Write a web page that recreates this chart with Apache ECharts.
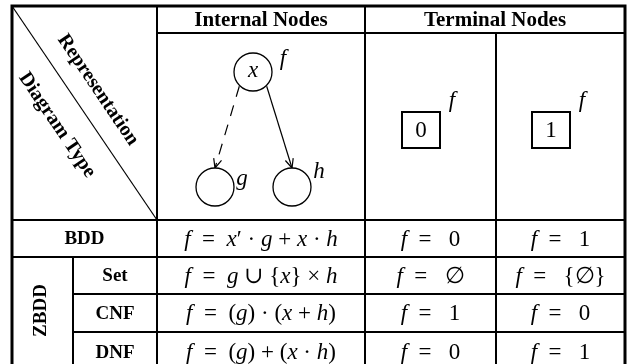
<!DOCTYPE html>
<html lang="en">
<head>
<meta charset="UTF-8">
<title>BDD / ZBDD node representation</title>
<script src="https://cdn.jsdelivr.net/npm/echarts@6/dist/echarts.min.js"></script>
<style>
  html, body { margin: 0; padding: 0; background: #fff; }
  #chart { width: 630px; height: 364px; }
</style>
</head>
<body>
<div id="chart"></div>
<script>
// ---- table contents ----
var headers = ['Internal Nodes', 'Terminal Nodes'];
var cornerTop = 'Representation';
var cornerBottom = 'Diagram Type';
var groups = ['BDD', 'ZBDD'];
var zbddRows = ['Set', 'CNF', 'DNF'];
// one entry per row: BDD, Set, CNF, DNF  (\u2002 = en space around "=")
var internalFormulas = [
    '{i|f}\u2002=\u2002{i|x}′ · {i|g} + {i|x} · {i|h}',
    '{i|f}\u2002=\u2002{i|g} ∪ {{i|x}} × {i|h}',
    '{i|f}\u2002=\u2002({i|g}) · ({i|x} + {i|h})',
    '{i|f}\u2002=\u2002({i|g}) + ({i|x} · {i|h})'
];
var zeroFormulas = ['{i|f}\u2002=\u2002 0', '{i|f}\u2002=\u2002 ∅', '{i|f}\u2002=\u2002 1', '{i|f}\u2002=\u2002 0'];
var oneFormulas = ['{i|f}\u2002=\u2002 1', '{i|f}\u2002=\u2002 {∅}', '{i|f}\u2002=\u2002 0', '{i|f}\u2002=\u2002 1'];
// the little node pictures
var terminalValues = ['0', '1'];
var nodeVars = ['x', '', ''];
var nodeFuncs = ['f', 'g', 'h'];
var edges = [[0, 1, 'dashed'], [0, 2, 'solid']];

// ---- layout (pixels) ----
var colX = [12, 73, 157, 365, 496, 625];
var rowY = [6, 33, 220, 257, 294, 332, 372];
var nodePos = [[253, 72], [215, 187], [292, 187]];
var nodeR = 19;
var funcOffset = [[30, -13], [27, -8], [27, -15]];

var SERIF = '"Liberation Serif", "DejaVu Serif", serif';
var richItalic = { i: { fontStyle: 'italic', fontFamily: SERIF, fontSize: 23, fill: '#000' } };

// cells: [c0, c1, r0, r1, text, kind]
var cells = [];
cells.push([0, 2, 0, 2, '', 'corner']);
cells.push([2, 3, 0, 1, headers[0], 'head']);
cells.push([3, 5, 0, 1, headers[1], 'head']);
cells.push([2, 3, 1, 2, '', 'plain']);
cells.push([3, 4, 1, 2, '', 'plain']);
cells.push([4, 5, 1, 2, '', 'plain']);
cells.push([0, 2, 2, 3, groups[0], 'label']);
cells.push([0, 1, 3, 6, groups[1], 'vlabel']);
zbddRows.forEach(function (name, k) {
    cells.push([1, 2, 3 + k, 4 + k, name, 'label']);
});
internalFormulas.forEach(function (f, k) {
    var r = 2 + k;
    cells.push([2, 3, r, r + 1, f, 'formula']);
    cells.push([3, 4, r, r + 1, zeroFormulas[k], 'formula']);
    cells.push([4, 5, r, r + 1, oneFormulas[k], 'formula']);
});

function pt(x, y, api) { return api.coord([x, y]); }

function renderCell(params, api) {
    var c = cells[params.dataIndex];
    var p0 = pt(colX[c[0]], rowY[c[2]], api);
    var p1 = pt(colX[c[1]], rowY[c[3]], api);
    var cx = (p0[0] + p1[0]) / 2, cy = (p0[1] + p1[1]) / 2;
    var children = [{
        type: 'rect',
        shape: { x: p0[0], y: p0[1], width: p1[0] - p0[0], height: p1[1] - p0[1] },
        style: { fill: 'none', stroke: '#000', lineWidth: 2 }
    }];
    if (c[5] === 'head') {
        children.push({ type: 'text', x: cx, y: cy + 1, style: {
            text: c[4], align: 'center', verticalAlign: 'middle',
            font: 'bold 21px ' + SERIF, fill: '#000' } });
    } else if (c[5] === 'label') {
        children.push({ type: 'text', x: cx, y: cy + 1, style: {
            text: c[4], align: 'center', verticalAlign: 'middle',
            font: 'bold 19px ' + SERIF, fill: '#000' } });
    } else if (c[5] === 'vlabel') {
        children.push({ type: 'text', x: cx - 1, y: cy - 4, rotation: Math.PI / 2, style: {
            text: c[4], align: 'center', verticalAlign: 'middle',
            font: 'bold 19px ' + SERIF, fill: '#000' } });
    } else if (c[5] === 'formula') {
        children.push({ type: 'text', x: cx, y: cy + 1, style: {
            text: c[4], align: 'center', verticalAlign: 'middle',
            font: '23px ' + SERIF, fill: '#000', rich: richItalic } });
    } else if (c[5] === 'corner') {
        var ang = Math.atan2(p1[1] - p0[1], p1[0] - p0[0]);
        children.push({ type: 'line',
            shape: { x1: p0[0], y1: p0[1], x2: p1[0], y2: p1[1] },
            style: { stroke: '#000', lineWidth: 1.2 } });
        children.push({ type: 'text', x: 98, y: 90, rotation: -ang, style: {
            text: cornerTop, align: 'center', verticalAlign: 'middle',
            font: 'bold 20px ' + SERIF, fill: '#000' } });
        children.push({ type: 'text', x: 57, y: 125, rotation: -ang, style: {
            text: cornerBottom, align: 'center', verticalAlign: 'middle',
            font: 'bold 20px ' + SERIF, fill: '#000' } });
    }
    return { type: 'group', children: children };
}

function renderOuter(params, api) {
    var p0 = pt(colX[0], rowY[0], api);
    var p1 = pt(colX[colX.length - 1], rowY[rowY.length - 1], api);
    return { type: 'rect',
        shape: { x: p0[0], y: p0[1], width: p1[0] - p0[0], height: p1[1] - p0[1] },
        style: { fill: 'none', stroke: '#000', lineWidth: 3 } };
}

function renderNode(params, api) {
    var i = params.dataIndex;
    var p = pt(nodePos[i][0], nodePos[i][1], api);
    return { type: 'group', children: [
        { type: 'circle', shape: { cx: p[0], cy: p[1], r: nodeR },
          style: { fill: '#fff', stroke: '#000', lineWidth: 1.3 } },
        { type: 'text', x: p[0], y: p[1] - 1, style: { text: nodeVars[i],
          align: 'center', verticalAlign: 'middle',
          font: 'italic 23px ' + SERIF, fill: '#000' } },
        { type: 'text', x: p[0] + funcOffset[i][0], y: p[1] + funcOffset[i][1],
          style: { text: nodeFuncs[i], align: 'center', verticalAlign: 'middle',
          font: 'italic 23px ' + SERIF, fill: '#000' } }
    ] };
}

function renderEdge(params, api) {
    var e = edges[params.dataIndex];
    var a = pt(nodePos[e[0]][0], nodePos[e[0]][1], api);
    var b = pt(nodePos[e[1]][0], nodePos[e[1]][1], api);
    var side = b[0] < a[0] ? -1 : 1;
    var s = [a[0] + side * nodeR * 0.72, a[1] + nodeR * 0.75];
    var t = [b[0], b[1] - nodeR];
    var ang = Math.atan2(t[1] - s[1], t[0] - s[0]);
    var wing = 10, spread = 0.42;
    var w1 = [t[0] - wing * Math.cos(ang - spread), t[1] - wing * Math.sin(ang - spread)];
    var w2 = [t[0] - wing * Math.cos(ang + spread), t[1] - wing * Math.sin(ang + spread)];
    return { type: 'group', children: [
        { type: 'line', shape: { x1: s[0], y1: s[1], x2: t[0], y2: t[1] },
          style: { stroke: '#000', lineWidth: 1.2,
                   lineDash: e[2] === 'dashed' ? [11, 9] : null } },
        { type: 'polyline', shape: { points: [w1, t, w2] },
          style: { fill: 'none', stroke: '#000', lineWidth: 1.2 } }
    ] };
}

function renderTerminal(params, api) {
    var k = params.dataIndex;
    var cx = (colX[3 + k] + colX[4 + k]) / 2 - 9.5;
    var cy = (rowY[1] + rowY[2]) / 2 + 3.5;
    var p0 = pt(cx - 19, cy - 18, api);
    var p1 = pt(cx + 19, cy + 18, api);
    var pc = pt(cx, cy, api);
    return { type: 'group', children: [
        { type: 'rect', shape: { x: p0[0], y: p0[1], width: p1[0] - p0[0], height: p1[1] - p0[1] },
          style: { fill: '#fff', stroke: '#000', lineWidth: 2 } },
        { type: 'text', x: pc[0], y: pc[1] + 1, style: { text: terminalValues[k],
          align: 'center', verticalAlign: 'middle', font: '23px ' + SERIF, fill: '#000' } },
        { type: 'text', x: p1[0] + 12, y: p0[1] - 11, style: { text: 'f',
          align: 'center', verticalAlign: 'middle', font: 'italic 23px ' + SERIF, fill: '#000' } }
    ] };
}

var chart = echarts.init(document.getElementById('chart'));
chart.setOption({
    animation: false,
    backgroundColor: '#fff',
    grid: { left: 0, right: 0, top: 0, bottom: 0 },
    xAxis: { type: 'value', min: 0, max: 630, show: false },
    yAxis: { type: 'value', min: 0, max: 364, inverse: true, show: false },
    series: [
        { type: 'custom', renderItem: renderCell, clip: false, silent: true,
          data: cells.map(function (c, i) { return [i]; }) },
        { type: 'custom', renderItem: renderOuter, clip: false, silent: true, data: [[0]] },
        { type: 'custom', renderItem: renderEdge, clip: false, silent: true,
          data: edges.map(function (e, i) { return [i]; }) },
        { type: 'custom', renderItem: renderNode, clip: false, silent: true,
          data: nodeVars.map(function (v, i) { return [i]; }) },
        { type: 'custom', renderItem: renderTerminal, clip: false, silent: true,
          data: terminalValues.map(function (v, i) { return [i]; }) }
    ]
});
</script>
</body>
</html>
